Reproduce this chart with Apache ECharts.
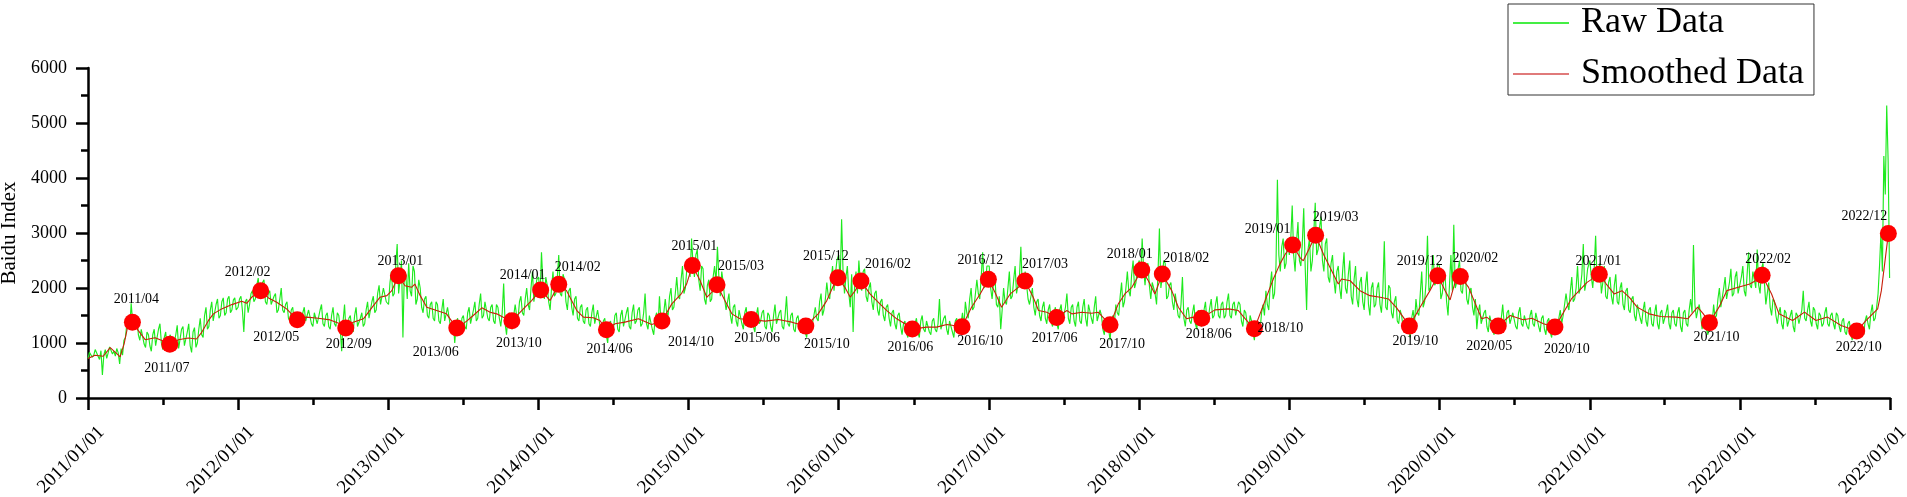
<!DOCTYPE html>
<html><head><meta charset="utf-8">
<script src="https://cdn.jsdelivr.net/npm/echarts@6.0.0/dist/echarts.min.js"></script>
<style>html,body{margin:0;padding:0;background:#fff}#c{width:1907px;height:497px}</style>
</head><body><div id="c"></div>
<script>
// ---------------- DATA ----------------
const yearTicks = [2011,2012,2013,2014,2015,2016,2017,2018,2019,2020,2021,2022,2023];
// raw values: weekly readings (each year from Jan 1, step 7 days) ...
const raw2011 = [720,850,780,860,700, 420,880,820,960, 850,900,620,780, 1100,1420,1720,1250,1500, 1050,1280,920,1150, 850,1250,980,1350, 880,1200,860,1100,900, 1320,880,1300,960, 1350,830,1280,1000, 1450,1100,1650,1300,1750, 1400,1800,1500,1820, 1550,1850,1600,1820];
const raw2012 = [1650,1850,1200,1800,1700, 1950,1800,2180,1900, 2150,1700,1950,1680, 1900,1600,2000,1550,1750, 1400,1650,1300,1500, 1350,1650,1380,1600, 1300,1580,1350,1700,1300, 1550,1250,1650,1300, 1500,850,1700,1150, 1500,1200,1650,1300,1550, 1350,1750,1450,1850, 1600,2050,1700,2000];
const raw2013 = [1700,2300,1900,2800,2150, 1100,2250,2450,1850, 2300,1800,2000,1550, 1850,1450,1750,1400,1700, 1350,1800,1400,1650, 1250,1000,1450,1150, 1500,1250,1650,1350,1750, 1450,1900,1500,1750, 1400,1700,1350,1650, 1300,2080,1150,1550,1250, 1700,1450,1850,1500, 2000,1600,2300,1750];
const raw2014 = [2200,2650,1800,2050,1600, 2300,1900,2600,1850, 2150,1600,2000,1500, 1850,1400,1700,1350,1650, 1300,1700,1350,1600, 1200,1450,1000,1400, 1250,1550,1200,1600,1300, 1650,1250,1700,1400, 1650,1350,1900,1250, 1500,1150,1550,1850,1300, 1800,1500,2000,1650, 2200,1800,2400,2000];
const raw2015 = [2500,2900,2200,2700,1950, 2350,1700,2150,1800, 2400,2750,1850,2100, 1600,1900,1350,1700,1300, 1600,1250,1650,1350, 1550,1200,1650,1400, 1600,1250,1500,1200,1700, 1350,1600,1250,1850, 1300,1550,1200,1500, 1250,1450,1100,1400,1350, 1650,1400,1900,1600, 2100,1800,2400,2250];
const raw2016 = [2600,3250,1900,2400,1650, 1200,2300,2500,1950, 2350,1750,2100,1600, 1950,1500,1800,1400,1700, 1300,1600,1250,1550, 1150,1400,1100,1350, 1200,1450,1100,1500,1200, 1400,1150,1450,1200, 1800,1250,1500,1150, 1400,1100,1450,1200,1550, 1750,1450,2000,1650, 2150,1800,2650,2100];
const raw2017 = [2400,1800,2200,1650,1250, 2000,1700,2300,1850, 2400,1900,2750,2050, 2300,1700,2000,1500,1800, 1400,1750,1350,1700, 1300,1650,1250,1700, 1400,1900,1350,1700,1300, 1750,1350,1800,1300, 1700,1350,1850,1400, 1500,1150,1450,1050,1500, 1700,1500,2100,1750, 2300,1850,2500,2100];
const raw2018 = [2500,2900,2050,2450,1800, 2100,1700,3080,2200, 2450,1850,2100,1600, 1900,1450,2200,1300,1650, 1350,1700,1250,1600, 1400,1750,1450,1800, 1500,1850,1450,1750,1500, 1900,1450,1750,1500, 1700,1300,1550,1150, 1400,1050,1350,1250,1700, 1950,1600,2300,1900, 3970,2300,2900,2450];
const raw2019 = [2600,3500,2300,3200,2400, 3450,1600,2900,2500, 3550,2700,3300,2300, 2900,2100,2600,1900,2400, 1800,2650,1900,2500, 1700,2400,1650,2200, 1600,2300,1500,2100,1700, 2100,1550,2850,1600, 2000,1450,1850,1350, 1500,1200,1450,1100,1600, 1800,1500,2300,1750, 2950,2000,2600,2100];
const raw2020 = [2400,1900,2200,1500,2600, 3150,2100,2500,1900, 2300,1700,2000,1500, 1250,1700,1350,1600,1200, 1500,1150,1400,1200, 1700,1300,1600,1350, 1550,1250,1650,1300,1500, 1250,1600,1300,1550, 1200,1500,1150,1450, 1100,1400,1200,1600,1500, 1900,1600,2200,1800, 2400,2000,2800,2100];
const raw2021 = [2500,2000,2950,2300,1900, 2400,1800,2200,1700, 2250,1700,2100,1600, 2000,1550,1850,1400,1700, 1350,1750,1300,1650, 1300,1700,1250,1600, 1350,1700,1250,1600,1300, 1650,1200,1600,1300, 1800,2780,1450,1700, 1250,1500,1150,1400,1700, 1500,2000,1650,2200, 1800,2350,1900,2300];
const raw2022 = [1900,2400,1850,2650,2000, 2300,2700,1900,2450, 1700,2100,1500,1750, 1350,1650,1250,1550,1300, 1600,1200,1500,1350, 1950,1400,1750,1300, 1600,1250,1500,1350,1650, 1300,1550,1250,1500, 1200,1450,1150,1400, 1050,1350,1100,1300,1150, 1500,1250,1700,1450, 1900,3000,4400,5320,2180];
// ... and mid-week readings (3.5 days after each weekly reading)
const mid2011 = [830,740,880,760,860, 780,720,930,800, 760,820,900,1050, 1350,1250,1400,1350,1150, 1250,980,1200,950, 1150,950,1250,1000, 1100,900,1150,880,1150, 900,1250,950,1200, 950,1200,920,1250, 1150,1500,1250,1600,1400, 1700,1450,1750,1500, 1800,1550,1780,1600];
const mid2012 = [1800,1600,1750,1550,1900, 1750,2050,1850,2100, 1750,1900,1700,1850, 1550,1800,1600,1700,1450, 1600,1350,1550,1300, 1550,1400,1600,1350, 1550,1350,1600,1350,1500, 1300,1500,1350,1550, 1250,1400,1200,1450, 1250,1500,1300,1450,1300, 1600,1450,1750,1550, 1900,1700,2000,1750];
const mid2013 = [2100,1850,2400,1900,2500, 2300,1800,1950,2400, 1700,2150,1650,1800, 1500,1700,1450,1750,1400, 1600,1400,1650,1300, 1400,1350,1200,1450, 1300,1550,1350,1600,1400, 1700,1450,1750,1450, 1650,1400,1700,1450, 1550,1350,1500,1300,1500, 1500,1750,1550,1800, 1700,2000,1750,2150];
const mid2014 = [1850,2100,2200,1750,2000, 1850,2200,1900,2250, 1750,1950,1650,1800, 1450,1650,1400,1600,1350, 1550,1350,1600,1250, 1400,1150,1350,1200, 1500,1250,1500,1300,1550, 1300,1550,1350,1600, 1300,1550,1350,1500, 1250,1450,1300,1400,1550, 1550,1850,1600,1900, 1850,2150,1900,2350];
const mid2015 = [2200,2450,2600,2150,2400, 1800,2050,1750,2200, 2100,2200,2300,1800, 1750,1500,1650,1400,1600, 1350,1550,1300,1500, 1300,1500,1350,1550, 1300,1550,1300,1500,1350, 1550,1300,1500,1350, 1500,1250,1450,1300, 1400,1200,1350,1250,1500, 1450,1750,1500,1800, 1850,2150,1950,2500];
const mid2016 = [2100,2300,2200,1900,2250, 2000,1900,2100,2300, 1850,2000,1750,1900, 1600,1750,1500,1650,1450, 1550,1350,1500,1300, 1350,1200,1350,1150, 1350,1200,1400,1250,1400, 1200,1400,1250,1350, 1250,1450,1250,1400, 1200,1400,1250,1350,1300, 1550,1800,1600,1900, 1900,2200,2000,2400];
const mid2017 = [2000,2100,1700,1850,1600, 1750,2000,1800,2150, 1900,2200,2000,2300, 1800,1850,1650,1750,1500, 1650,1450,1600,1400, 1550,1350,1600,1400, 1650,1450,1650,1400,1650, 1400,1650,1450,1700, 1450,1650,1400,1600, 1250,1450,1250,1400,1350, 1550,1850,1650,2000, 1950,2250,2000,2400];
const mid2018 = [2200,2350,2400,2050,2100, 1900,2250,2000,2500, 1800,2050,1750,1900, 1500,1700,1450,1600,1400, 1550,1350,1600,1300, 1600,1400,1650,1450, 1700,1500,1700,1450,1750, 1500,1700,1500,1750, 1400,1600,1350,1500, 1200,1400,1150,1550,1500, 1700,2050,1800,2400, 2600,2750,2350,2900];
const mid2019 = [2900,2600,2850,2500,2800, 2400,2700,2300,3000, 2600,3100,2500,2800, 2200,2450,2150,2300,2000, 2300,2000,2250,1850, 2150,1800,2100,1750, 2050,1700,2000,1650,2000, 1700,1950,1650,2050, 1550,1750,1400,1600, 1300,1400,1250,1450,1350, 1550,1900,1650,2100, 1950,2300,2050,2450];
const mid2020 = [1800,2150,1750,2050,1950, 2000,2350,1950,2250, 1800,1950,1650,1800, 1550,1350,1550,1300,1500, 1250,1450,1200,1450, 1350,1550,1350,1550, 1300,1550,1350,1500,1300, 1500,1350,1550,1300, 1450,1250,1400,1200, 1350,1250,1450,1350,1700, 1700,1950,1750,2000, 1900,2250,1950,2350];
const mid2021 = [2200,2350,2100,2450,2100, 1850,2100,1850,2050, 1750,2000,1700,1950, 1600,1800,1500,1700,1450, 1600,1400,1600,1350, 1550,1350,1550,1350, 1550,1350,1550,1350,1550, 1300,1550,1350,1600, 1550,1700,1600,1500, 1400,1250,1450,1350,1450, 1800,1650,2000,1800, 2100,1850,2200,1900];
const mid2022 = [2200,1950,2250,2050,2300, 2000,2050,2350,2100, 1900,1650,1800,1500, 1550,1350,1600,1300,1500, 1300,1550,1350,1600, 1450,1600,1400,1650, 1350,1550,1300,1550,1350, 1500,1350,1550,1300, 1400,1200,1350,1200, 1300,1150,1350,1200,1400, 1350,1550,1400,1650, 2400,2300,3700,4300];

const smoothed = [
['2011-01-01',720],['2011-01-18',777],['2011-02-07',759],['2011-02-24',916],['2011-03-12',807],['2011-03-20',747],['2011-03-30',988],['2011-04-09',1350],['2011-04-19',1379],['2011-05-03',1229],['2011-05-20',1060],['2011-06-13',1096],['2011-07-03',1036],['2011-07-19',976],['2011-08-09',1060],['2011-09-02',1090],['2011-09-22',1072],['2011-10-05',1199],['2011-10-21',1410],['2011-11-02',1530],['2011-11-22',1620],['2011-12-17',1698],
['2012-01-10',1758],['2012-01-22',1722],['2012-02-03',1831],['2012-02-25',1952],['2012-03-15',1819],['2012-04-04',1740],['2012-04-28',1620],['2012-05-24',1422],['2012-06-16',1470],['2012-07-14',1451],['2012-08-12',1420],['2012-09-05',1350],['2012-09-19',1271],['2012-10-07',1379],['2012-11-01',1440],['2012-11-21',1639],['2012-12-11',1831],['2012-12-28',1861],
['2013-01-09',1952],['2013-01-25',2223],['2013-02-10',2042],['2013-02-26',2012],['2013-03-06',2072],['2013-03-19',1861],['2013-04-04',1650],['2013-04-28',1590],['2013-05-22',1530],['2013-06-16',1271],['2013-07-10',1398],['2013-07-26',1500],['2013-08-16',1639],['2013-09-05',1560],['2013-09-21',1530],['2013-10-07',1470],['2013-10-28',1404],['2013-11-25',1620],['2013-12-15',1771],
['2014-01-06',1964],['2014-01-29',1771],['2014-02-19',2066],['2014-03-10',1952],['2014-04-04',1590],['2014-04-20',1470],['2014-05-14',1460],['2014-05-30',1410],['2014-06-15',1241],['2014-07-06',1350],['2014-07-30',1379],['2014-09-01',1440],['2014-10-03',1337],['2014-10-28',1398],['2014-11-21',1711],['2014-12-15',1903],['2014-12-27',2072],
['2015-01-10',2410],['2015-01-29',2132],['2015-02-14',1831],['2015-02-26',1921],['2015-03-11',2060],['2015-03-30',1771],['2015-04-16',1530],['2015-05-06',1440],['2015-06-02',1428],['2015-07-06',1398],['2015-08-07',1428],['2015-09-09',1379],['2015-10-13',1307],['2015-11-12',1530],['2015-12-03',1771],['2015-12-19',2042],['2015-12-30',2187],
['2016-01-16',2012],['2016-01-29',1831],['2016-02-10',1952],['2016-02-24',2127],['2016-03-17',1892],['2016-04-10',1711],['2016-04-27',1590],['2016-05-21',1440],['2016-06-10',1350],['2016-06-28',1253],['2016-08-02',1289],['2016-08-26',1289],['2016-09-20',1337],['2016-10-27',1295],['2016-11-19',1650],['2016-12-10',1892],['2016-12-30',2157],
['2017-01-15',1921],['2017-01-31',1650],['2017-02-21',1892],['2017-03-13',2012],['2017-03-29',2127],['2017-04-18',1831],['2017-05-01',1590],['2017-05-21',1560],['2017-06-14',1464],['2017-07-09',1590],['2017-07-21',1530],['2017-08-14',1560],['2017-09-07',1542],['2017-09-23',1560],['2017-10-22',1331],['2017-11-11',1711],['2017-11-27',1892],['2017-12-14',2012],
['2018-01-07',2326],['2018-01-23',2132],['2018-02-08',1892],['2018-02-26',2253],['2018-03-21',1952],['2018-04-06',1650],['2018-04-26',1440],['2018-05-13',1470],['2018-06-02',1452],['2018-07-04',1602],['2018-08-06',1620],['2018-08-30',1590],['2018-09-19',1410],['2018-10-08',1259],['2018-11-03',1771],['2018-11-23',2163],['2018-12-09',2434],['2018-12-22',2615],
['2019-01-09',2783],['2019-01-27',2553],['2019-02-04',2494],['2019-03-06',2958],['2019-03-25',2615],['2019-04-10',2373],['2019-04-30',2072],['2019-05-08',2163],['2019-05-29',2132],['2019-06-22',1952],['2019-07-16',1861],['2019-08-10',1831],['2019-08-30',1801],['2019-09-19',1639],['2019-10-05',1470],['2019-10-20',1307],['2019-11-15',1650],['2019-12-09',1952],['2019-12-28',2223],
['2020-01-15',1952],['2020-01-27',1783],['2020-02-08',2102],['2020-02-21',2211],['2020-03-12',2012],['2020-04-01',1650],['2020-04-13',1440],['2020-04-25',1470],['2020-05-23',1307],['2020-06-21',1500],['2020-07-23',1422],['2020-08-13',1451],['2020-09-10',1350],['2020-10-08',1289],['2020-11-17',1801],['2020-12-25',2102],
['2021-01-24',2248],['2021-02-10',2072],['2021-03-01',1892],['2021-03-20',1952],['2021-04-07',1831],['2021-04-26',1652],['2021-05-25',1530],['2021-06-22',1482],['2021-07-30',1471],['2021-08-27',1440],['2021-09-20',1652],['2021-10-04',1530],['2021-10-19',1368],['2021-11-11',1652],['2021-11-30',1952],['2021-12-28',2012],
['2022-01-25',2072],['2022-02-08',2132],['2022-02-24',2230],['2022-03-19',1892],['2022-04-06',1530],['2022-05-09',1410],['2022-06-07',1561],['2022-07-05',1410],['2022-08-02',1471],['2022-09-04',1319],['2022-10-12',1218],['2022-11-04',1410],['2022-12-02',1621],['2022-12-11',1952],['2022-12-28',2989]
];

const markerLabels = ['2011/04','2011/07','2012/02','2012/05','2012/09','2013/01','2013/06','2013/10','2014/01','2014/02','2014/06','2014/10','2015/01','2015/03','2015/06','2015/10','2015/12','2016/02','2016/06','2016/10','2016/12','2017/03','2017/06','2017/10','2018/01','2018/02','2018/06','2018/10','2019/01','2019/03','2019/10','2019/12','2020/02','2020/05','2020/10','2021/01','2021/10','2022/02','2022/10','2022/12'];
const markerDates = ['2011-04-19','2011-07-19','2012-02-25','2012-05-24','2012-09-19','2013-01-25','2013-06-16','2013-10-28','2014-01-06','2014-02-19','2014-06-15','2014-10-28','2015-01-10','2015-03-11','2015-06-02','2015-10-13','2015-12-30','2016-02-24','2016-06-28','2016-10-27','2016-12-30','2017-03-29','2017-06-14','2017-10-22','2018-01-07','2018-02-26','2018-06-02','2018-10-08','2019-01-09','2019-03-06','2019-10-20','2019-12-28','2020-02-21','2020-05-23','2020-10-08','2021-01-24','2021-10-19','2022-02-24','2022-10-12','2022-12-28'];
const markerValues = [1379,976,1952,1422,1271,2223,1271,1404,1964,2066,1241,1398,2410,2060,1428,1307,2187,2127,1253,1295,2157,2127,1464,1331,2326,2253,1452,1259,2783,2958,1307,2223,2211,1307,1289,2248,1368,2230,1218,2989];

// ---------------- STYLE ----------------
const FONT = 'Liberation Serif';
const labelOffsets = [[4,-23],[-3,24],[-13,-18],[-21,18],[3,16],[2,-14],[-21,24],[7,23],[-18,-15],[19,-17],[3,20],[29,21],[2,-19],[24,-18],[6,19],[21,18],[-12,-21],[27,-17],[-2,18],[18,15],[-8,-19],[20,-17],[-2,21],[12,20],[-12,-16],[24,-16],[7,16],[26,0],[-25,-16],[20,-18],[6,15],[-18,-14],[15,-18],[-9,20],[12,22],[-1,-13],[7,15],[6,-16],[2,16],[-24,-17]];

const DAY = 86400000;
const toTs = d => { const p = d.split('-'); return new Date(+p[0], +p[1] - 1, +p[2]).getTime(); };
const rawYears = [[2011,raw2011,mid2011],[2012,raw2012,mid2012],[2013,raw2013,mid2013],[2014,raw2014,mid2014],[2015,raw2015,mid2015],[2016,raw2016,mid2016],[2017,raw2017,mid2017],[2018,raw2018,mid2018],[2019,raw2019,mid2019],[2020,raw2020,mid2020],[2021,raw2021,mid2021],[2022,raw2022,mid2022]];
const rawData = [];
rawYears.forEach(([y, weekly, mids]) => {
  const base = new Date(y, 0, 1).getTime();
  weekly.forEach((v, i) => {
    rawData.push([base + 7 * i * DAY, v]);
    if (i < mids.length) rawData.push([base + (7 * i + 3.5) * DAY, mids[i]]);
  });
});
const smoothData = smoothed.map(([d, v]) => [toTs(d), v]);
const markerData = markerDates.map((d, i) => ({ value: [toTs(d), markerValues[i]], label: { offset: labelOffsets[i] } }));
const yearTs = yearTicks.map(y => new Date(y, 0, 1).getTime());
const midTs = yearTicks.slice(0, -1).map(y => new Date(y, 6, 2).getTime());
const pad = n => (n < 10 ? '0' : '') + n;
const xMin = yearTs[0], xMax = yearTs[yearTs.length - 1];

const chart = echarts.init(document.getElementById('c'), null, { renderer: 'canvas' });
chart.setOption({
  animation: false,
  backgroundColor: '#fff',
  grid: { left: 88, right: 17, top: 68, bottom: 99, containLabel: false, outerBoundsMode: 'none' },
  legend: {
    orient: 'vertical', left: 1508, top: 4,
    padding: [1, 10, 3, 5], itemGap: 15, itemWidth: 56, itemHeight: 2,
    borderColor: '#333', borderWidth: 1,
    textStyle: { fontFamily: FONT, fontSize: 36, lineHeight: 36, color: '#000', padding: [0, 0, 0, 7] },
    data: [
      { name: 'Raw Data', icon: 'rect', itemStyle: { color: '#44ee44' } },
      { name: 'Smoothed Data', icon: 'rect', itemStyle: { color: '#e07a7a' } }
    ]
  },
  xAxis: [{
    type: 'value', min: xMin, max: xMax,
    axisLine: { show: true, lineStyle: { color: '#000', width: 2.5 } },
    axisTick: { show: true, length: 12, lineStyle: { color: '#000', width: 2.5 }, customValues: yearTs },
    axisLabel: {
      show: true, rotate: 45, margin: 18, align: 'right', verticalAlign: 'top', lineHeight: 38,
      fontFamily: FONT, fontSize: 19, color: '#000',
      customValues: yearTs, hideOverlap: false, showMinLabel: true, showMaxLabel: true,
      formatter: v => { const d = new Date(v); return d.getFullYear() + '/' + pad(d.getMonth() + 1) + '/' + pad(d.getDate()); }
    },
    splitLine: { show: false }
  }, {
    type: 'value', min: xMin, max: xMax, position: 'bottom',
    axisLine: { show: false },
    axisTick: { show: true, length: 7, lineStyle: { color: '#000', width: 2.5 }, customValues: midTs },
    axisLabel: { show: false },
    splitLine: { show: false }
  }],
  yAxis: {
    type: 'value', min: 0, max: 6000, interval: 1000,
    name: 'Baidu Index', nameLocation: 'middle', nameGap: 52,
    nameTextStyle: { fontFamily: FONT, fontSize: 21, color: '#000' },
    axisLine: { show: true, lineStyle: { color: '#000', width: 2.5 } },
    axisTick: { show: true, length: 12, lineStyle: { color: '#000', width: 2.5 } },
    minorTick: { show: true, splitNumber: 2, length: 7, lineStyle: { color: '#000', width: 2.5 } },
    axisLabel: { fontFamily: FONT, fontSize: 18, color: '#000', margin: 21, formatter: v => String(v) },
    splitLine: { show: false }
  },
  series: [
    { name: 'Raw Data', type: 'line', data: rawData, showSymbol: false, symbol: 'none', sampling: null,
      lineStyle: { color: '#1eea1e', width: 1.15 }, itemStyle: { color: '#1eea1e' }, z: 2 },
    { name: 'Smoothed Data', type: 'line', data: smoothData, showSymbol: false, symbol: 'none',
      lineStyle: { color: '#c81e0a', width: 1.1 }, itemStyle: { color: '#c81e0a' }, z: 3 },
    { name: 'Extrema', type: 'scatter', data: markerData, symbol: 'circle', symbolSize: 17,
      itemStyle: { color: '#ff0000', opacity: 1 }, z: 4,
      label: { show: true, position: 'inside', fontFamily: FONT, fontSize: 14, color: '#000',
        formatter: p => markerLabels[p.dataIndex] } }
  ]
});
</script></body></html>
